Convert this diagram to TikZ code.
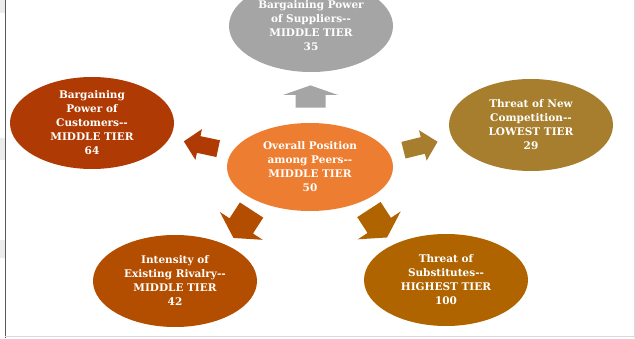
\documentclass[tikz,border=0pt]{standalone}
\usepackage{fontspec}
\setmainfont{DejaVu Serif}
\usetikzlibrary{shapes.geometric,calc}
\definecolor{supgray}{HTML}{A5A5A5}
\definecolor{midorange}{HTML}{ED7D31}
\definecolor{custred}{HTML}{AF3A03}
\definecolor{newgold}{HTML}{A67E2D}
\definecolor{rivbrown}{HTML}{B34D00}
\definecolor{subsbrown}{HTML}{AF6400}

\begin{document}
\begin{tikzpicture}[x=1pt,y=1pt,every node/.style={ellipse,inner sep=0pt,minimum width=164pt,minimum height=92pt,text=white,align=center,font=\bfseries\fontsize{10.5}{14}\selectfont}]
\useasboundingbox (0,0) rectangle (635,338);
% page edges
\fill[gray!15] (0,325) rectangle (5,338) (0,178) rectangle (5,200) (0,80) rectangle (5,98);
\draw[gray!70!black,line width=1pt] (5,0)--(5,338);
\draw[gray!30] (634,0)--(634,338) (5,1.5)--(635,1.5);
% tiers
\node[fill=midorange,minimum width=166pt,minimum height=88pt] at(310,171)(mid){Overall Position\\among Peers-{}-\\MIDDLE TIER\\50};
\node[fill=supgray] at(311,312)(sup){Bargaining Power\\of Suppliers-{}-\\MIDDLE TIER\\35};
\node[fill=custred] at(92,215)(cust){Bargaining\\Power of\\Customers-{}-\\MIDDLE TIER\\64};
\node[fill=newgold] at(531,213)(newc){Threat of New\\Competition-{}-\\LOWEST TIER\\29};
\node[fill=rivbrown] at(175,57)(riv){Intensity of\\Existing Rivalry-{}-\\MIDDLE TIER\\42};
\node[fill=subsbrown] at(446,58)(subs){Threat of\\Substitutes-{}-\\HIGHEST TIER\\100};
% arrows half way out: target/angle/length/width/colour
\foreach \n/\a/\l/\w/\c in {sup/90/.6/1/supgray,cust/168/.95/.57/custred,newc/14/.95/.57/newgold,riv/237/.9/.93/rivbrown,subs/303/.9/.93/subsbrown}
  \fill[\c,shift={($(mid)!.5!(\n)$)},rotate=\a,xscale=\l,yscale=\w] (-18.5,-15)--(2.5,-15)--(2.5,-27.5)--(18.5,0)--(2.5,27.5)--(2.5,15)--(-18.5,15)--cycle;
\end{tikzpicture}
\end{document}
